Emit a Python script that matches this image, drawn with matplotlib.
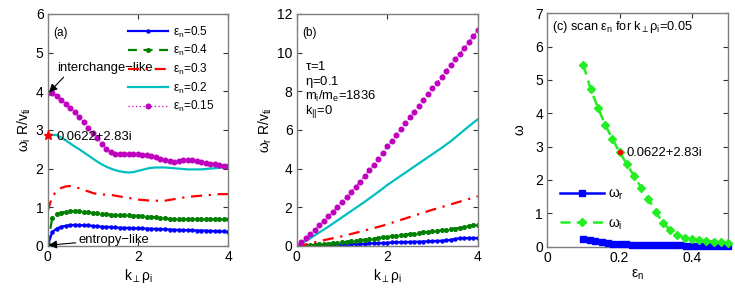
import matplotlib

matplotlib.use("Agg")
import matplotlib.pyplot as plt

plt.rcParams["font.family"] = ["Liberation Sans", "DejaVu Sans"]
plt.rcParams["mathtext.fontset"] = "custom"
plt.rcParams["mathtext.rm"] = "Liberation Sans"
plt.rcParams["mathtext.it"] = "Liberation Sans"
plt.rcParams["axes.unicode_minus"] = False

# k_perp rho_i grid (panels a, b)
k = [0.0, 0.1, 0.2, 0.3, 0.4, 0.5, 0.6, 0.7, 0.8, 0.9, 1.0,
     1.1, 1.2, 1.3, 1.4, 1.5, 1.6, 1.7, 1.8, 1.9, 2.0,
     2.1, 2.2, 2.3, 2.4, 2.5, 2.6, 2.7, 2.8, 2.9, 3.0,
     3.1, 3.2, 3.3, 3.4, 3.5, 3.6, 3.7, 3.8, 3.9, 4.0]

# panel (a): growth rate omega_i R / v_ti
wi_05 = [0.0, 0.36, 0.45, 0.5, 0.52, 0.54, 0.545, 0.54, 0.535, 0.53, 0.52,
         0.51, 0.5, 0.495, 0.49, 0.48, 0.47, 0.47, 0.465, 0.46, 0.46,
         0.455, 0.45, 0.445, 0.44, 0.435, 0.43, 0.425, 0.42, 0.415, 0.41,
         0.41, 0.405, 0.4, 0.4, 0.395, 0.39, 0.385, 0.38, 0.375, 0.37]
wi_04 = [0.05, 0.72, 0.82, 0.86, 0.89, 0.9, 0.9, 0.895, 0.89, 0.87, 0.85,
         0.84, 0.83, 0.82, 0.81, 0.8, 0.8, 0.79, 0.79, 0.78, 0.78,
         0.77, 0.76, 0.75, 0.74, 0.73, 0.72, 0.7, 0.69, 0.69, 0.69,
         0.69, 0.69, 0.69, 0.69, 0.69, 0.69, 0.69, 0.69, 0.69, 0.69]
wi_03 = [0.9, 1.28, 1.42, 1.5, 1.54, 1.55, 1.53, 1.49, 1.45, 1.41, 1.37,
         1.34, 1.33, 1.33, 1.32, 1.3, 1.28, 1.26, 1.24, 1.22, 1.2,
         1.19, 1.18, 1.17, 1.17, 1.17, 1.17, 1.19, 1.21, 1.23, 1.25,
         1.27, 1.28, 1.29, 1.3, 1.31, 1.32, 1.33, 1.34, 1.34, 1.34]
wi_02 = [2.87, 2.87, 2.87, 2.8, 2.73, 2.65, 2.57, 2.5, 2.42, 2.34, 2.26,
         2.18, 2.11, 2.05, 2.0, 1.96, 1.93, 1.91, 1.9, 1.91, 1.94,
         1.97, 2.0, 2.02, 2.03, 2.03, 2.03, 2.02, 2.01, 2.0, 1.99,
         1.98, 1.98, 1.98, 1.98, 1.99, 2.0, 2.01, 2.02, 2.03, 2.03]
wi_015 = [3.96, 3.95, 3.88, 3.78, 3.68, 3.58, 3.46, 3.33, 3.2, 3.06, 2.92,
          2.78, 2.64, 2.52, 2.44, 2.39, 2.37, 2.37, 2.37, 2.37, 2.37,
          2.36, 2.35, 2.32, 2.29, 2.25, 2.22, 2.2, 2.18, 2.2, 2.22,
          2.22, 2.21, 2.2, 2.18, 2.15, 2.13, 2.11, 2.09, 2.08, 2.07]

# panel (b): real frequency omega_r R / v_ti
wr_05 = [0.0, 0.0, 0.01, 0.01, 0.02, 0.02, 0.03, 0.04, 0.05, 0.06, 0.07,
         0.08, 0.09, 0.1, 0.11, 0.12, 0.13, 0.14, 0.15, 0.16, 0.17,
         0.18, 0.19, 0.2, 0.2, 0.21, 0.22, 0.22, 0.23, 0.24, 0.25,
         0.26, 0.27, 0.29, 0.32, 0.36, 0.4, 0.41, 0.41, 0.41, 0.41]
wr_04 = [0.0, 0.01, 0.02, 0.04, 0.06, 0.08, 0.1, 0.12, 0.14, 0.16, 0.18,
         0.21, 0.24, 0.27, 0.3, 0.32, 0.35, 0.38, 0.41, 0.44, 0.47,
         0.5, 0.53, 0.56, 0.59, 0.62, 0.64, 0.67, 0.7, 0.72, 0.75,
         0.78, 0.81, 0.84, 0.87, 0.9, 0.94, 0.98, 1.02, 1.06, 1.1]
wr_03 = [0.0, 0.04, 0.08, 0.13, 0.19, 0.25, 0.3, 0.35, 0.4, 0.45, 0.5,
         0.56, 0.62, 0.68, 0.74, 0.8, 0.86, 0.92, 0.99, 1.05, 1.12,
         1.2, 1.27, 1.35, 1.42, 1.5, 1.57, 1.65, 1.72, 1.8, 1.87,
         1.94, 2.01, 2.08, 2.15, 2.22, 2.29, 2.36, 2.43, 2.5, 2.57]
wr_02 = [0.0, 0.12, 0.26, 0.4, 0.55, 0.7, 0.85, 1.0, 1.16, 1.32, 1.48,
         1.64, 1.8, 1.96, 2.12, 2.28, 2.45, 2.62, 2.79, 2.97, 3.15,
         3.31, 3.47, 3.63, 3.79, 3.95, 4.11, 4.27, 4.43, 4.59, 4.75,
         4.91, 5.07, 5.24, 5.41, 5.6, 5.8, 5.99, 6.18, 6.37, 6.55]
wr_015 = [0.0, 0.2, 0.4, 0.62, 0.84, 1.06, 1.3, 1.54, 1.78, 2.03, 2.28,
          2.54, 2.8, 3.06, 3.33, 3.62, 3.91, 4.2, 4.5, 4.82, 5.15,
          5.45, 5.75, 6.05, 6.35, 6.65, 6.95, 7.25, 7.55, 7.85, 8.15,
          8.45, 8.75, 9.05, 9.35, 9.65, 9.95, 10.25, 10.55, 10.85, 11.15]

# panel (c): scan in eps_n at k_perp rho_i = 0.05
eps_i = [0.10, 0.12, 0.14, 0.16, 0.18, 0.20, 0.22, 0.24, 0.26, 0.28, 0.30,
         0.32, 0.34, 0.36, 0.38, 0.40, 0.42, 0.44, 0.46, 0.48, 0.50]
om_i = [5.45, 4.72, 4.17, 3.66, 3.23, 2.83, 2.48, 2.12, 1.77, 1.42, 1.05,
        0.7, 0.5, 0.35, 0.27, 0.22, 0.2, 0.17, 0.15, 0.13, 0.1]
eps_r = [0.100, 0.117, 0.133, 0.150, 0.167, 0.183, 0.200, 0.217, 0.233,
         0.250, 0.267, 0.283, 0.300, 0.317, 0.333, 0.350, 0.367, 0.383,
         0.400, 0.417, 0.433, 0.450, 0.467, 0.483, 0.500]
om_r = [0.24, 0.2, 0.17, 0.14, 0.11, 0.09, 0.08, 0.07, 0.06, 0.06, 0.05,
        0.05, 0.05, 0.04, 0.04, 0.04, 0.04, 0.03, 0.03, 0.03, 0.03, 0.03,
        0.02, 0.02, 0.02]

mark_eps, mark_w = 0.2, 2.83       # highlighted eigenvalue 0.0622+2.83i
mark_k, mark_wi = 0.0, 2.87

eps_labels = [r"$\varepsilon_n$=0.5", r"$\varepsilon_n$=0.4", r"$\varepsilon_n$=0.3",
              r"$\varepsilon_n$=0.2", r"$\varepsilon_n$=0.15"]

styles = [
    dict(color="#0000ff", ls="-", lw=1.6, marker="o", ms=2.2),
    dict(color="#008000", ls=(0, (4, 3)), lw=1.6, marker="o", ms=2.6),
    dict(color="#ff0000", ls=(0, (5, 3, 1, 3)), lw=1.6),
    dict(color="#00bfbf", ls="-", lw=1.6),
    dict(color="#bf00bf", ls=(0, (1, 2)), lw=0.9, marker="o", ms=3.3),
]

SP = "#7f7f7f"
FS_NOTE = 9.4


def style_ax(ax):
    for s in ax.spines.values():
        s.set_color(SP)
        s.set_linewidth(1.0)
    ax.tick_params(direction="in", length=3.5, width=0.8, color="#333333",
                   top=True, right=True, labelsize=10, pad=3)


fig = plt.figure(figsize=(7.35, 2.96), dpi=100)
axA = fig.add_axes([0.0649, 0.169, 0.2455, 0.784])
axB = fig.add_axes([0.4037, 0.169, 0.2463, 0.784])
axC = fig.add_axes([0.7446, 0.167, 0.2459, 0.788])

# --- (a) ---
for y, lab, st in zip([wi_05, wi_04, wi_03, wi_02, wi_015], eps_labels, styles):
    axA.plot(k, y, label=lab, **st)
axA.plot([mark_k], [mark_wi], marker="*", color="#ff0000", ms=6.5, zorder=5,
         clip_on=False)
axA.text(0.2, 2.83, "0.0622+2.83i", fontsize=FS_NOTE, va="center")
axA.annotate("interchange\u2212like", xy=(0.03, 3.97), xytext=(0.2, 4.59),
             fontsize=FS_NOTE, va="center",
             arrowprops=dict(arrowstyle="-|>", color="k", lw=0.8,
                             mutation_scale=12, shrinkA=0, shrinkB=0,
                             relpos=(0.1, 0.0)))
axA.annotate("entropy\u2212like", xy=(0.02, 0.02), xytext=(0.68, 0.15),
             fontsize=FS_NOTE, va="center",
             arrowprops=dict(arrowstyle="-|>", color="k", lw=0.8,
                             mutation_scale=12, shrinkA=0, shrinkB=0,
                             relpos=(0.0, 0.3)))
axA.text(0.12, 5.5, "(a)", fontsize=8.5, va="center")
axA.set_xlim(0, 4)
axA.set_ylim(0, 6)
axA.set_xticks([0, 2, 4])
axA.set_yticks([0, 1, 2, 3, 4, 5, 6])
axA.set_xlabel(r"$k_\perp\rho_i$", fontsize=10, labelpad=2)
axA.set_ylabel(r"$\omega_i\ R/v_{ti}$", fontsize=10, labelpad=2)
axA.legend(loc="upper right", frameon=False, fontsize=8.5, numpoints=1,
           handlelength=3.4, labelspacing=0.3, handletextpad=0.4,
           borderaxespad=0.3, bbox_to_anchor=(0.97, 0.99))
style_ax(axA)

# --- (b) ---
for y, st in zip([wr_05, wr_04, wr_03, wr_02, wr_015], styles):
    axB.plot(k, y, **st)
axB.text(0.12, 11.0, "(b)", fontsize=8.5, va="center")
axB.text(0.18, 9.3, r"$\tau$=1", fontsize=FS_NOTE, va="center")
axB.text(0.18, 8.5, r"$\eta$=0.1", fontsize=FS_NOTE, va="center")
axB.text(0.18, 7.75, r"$m_i/m_e$=1836", fontsize=FS_NOTE, va="center")
axB.text(0.18, 6.95, r"$k_{||}$=0", fontsize=FS_NOTE, va="center")
axB.set_xlim(0, 4)
axB.set_ylim(0, 12)
axB.set_xticks([0, 2, 4])
axB.set_yticks([0, 2, 4, 6, 8, 10, 12])
axB.set_xlabel(r"$k_\perp\rho_i$", fontsize=10, labelpad=2)
axB.set_ylabel(r"$\omega_r\ R/v_{ti}$", fontsize=10, labelpad=2)
style_ax(axB)

# --- (c) ---
axC.plot(eps_r, om_r, color="#0000ff", ls="-", lw=1.8, marker="s", ms=4.2,
         label=r"$\omega_r$", clip_on=False, zorder=3)
axC.plot(eps_i, om_i, color="#22ee22", ls=(0, (4, 2.5)), lw=1.8, marker="D",
         ms=4.0, label=r"$\omega_i$", clip_on=False, zorder=4)
axC.plot([mark_eps], [mark_w], "o", color="#ff0000", ms=3, zorder=6)
axC.text(0.219, 2.8, "0.0622+2.83i", fontsize=FS_NOTE, va="center")
axC.text(0.012, 6.6, r"(c) scan $\varepsilon_n$ for $k_\perp\rho_i$=0.05",
         fontsize=9.2, va="center")
axC.set_xlim(0, 0.5)
axC.set_ylim(0, 7)
axC.set_xticks([0, 0.2, 0.4])
axC.set_xticklabels(["0", "0.2", "0.4"])
axC.set_yticks([0, 1, 2, 3, 4, 5, 6, 7])
axC.set_xlabel(r"$\varepsilon_n$", fontsize=10, labelpad=2)
axC.set_ylabel(r"$\omega$", fontsize=10, labelpad=6)
axC.legend(loc="center left", frameon=False, fontsize=10, numpoints=1,
           handlelength=3.2, labelspacing=1.0, handletextpad=0.3,
           bbox_to_anchor=(0.0, 0.16))
style_ax(axC)

fig.savefig("out.png", dpi=100)
